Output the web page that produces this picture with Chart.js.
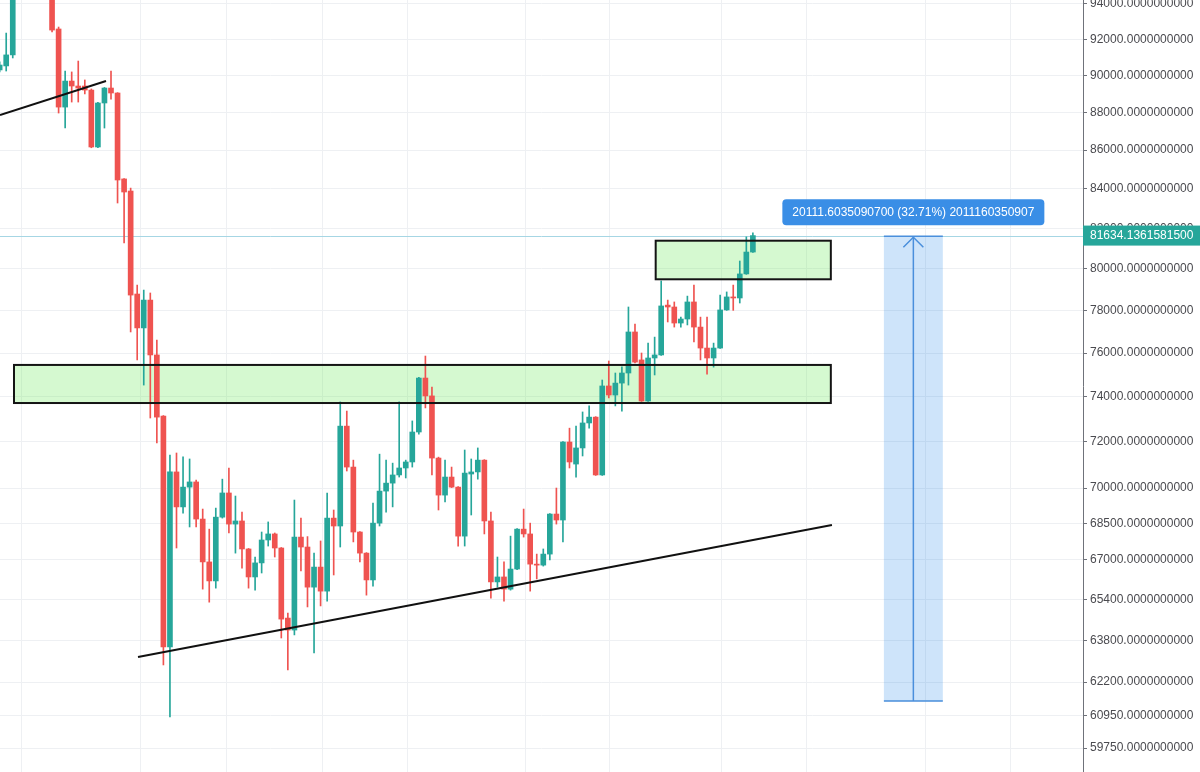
<!DOCTYPE html>
<html>
<head>
<meta charset="utf-8">
<script src="https://cdn.jsdelivr.net/npm/chart.js@4.4.1/dist/chart.umd.min.js"></script>
<style>
html,body{margin:0;padding:0;background:#ffffff;overflow:hidden;}
#wrap{width:1200px;height:772px;position:relative;}
</style>
</head>
<body>
<div id="wrap"><canvas id="c" width="1200" height="772"></canvas></div>
<script>
// ---- candle data (index = bar number) ----
const opens = [90300,90520,91130,95200,96100,95400,96300,95600,95000,92580,
88280,89690,89420,89420,89200,86160,88500,89310,89040,84500,
83880,78780,77170,78490,75910,73140,63540,70690,69200,70040,
70260,68690,66920,66150,68770,69790,68480,68610,67450,66310,
66880,67820,68070,67490,64670,64200,67940,67530,65900,66710,
65740,68730,68400,72690,70900,68150,67280,66190,68520,69870,
70210,70560,70860,71120,72430,74850,74040,71290,69700,70470,
70040,67980,70600,70690,71200,68610,66110,66310,65820,66630,
68270,68070,66830,66790,67240,68900,68650,71990,71030,71730,
72830,73090,70560,74490,74080,74620,75080,76980,75680,73810,
75770,75910,78250,78160,77400,77590,78400,77210,76230,75770,
76230,78020,78640,78590,79750,80820];
const highs = [90740,92350,95600,96500,96800,96900,96700,96000,95300,92690,
90240,90190,90790,89750,89260,88530,89340,90240,89060,84520,
84030,79210,78970,78830,76600,73160,71420,71510,71340,71250,
70340,69110,68270,69150,70380,70860,69660,68980,67470,67120,
68150,68570,68110,67510,64870,69490,68730,67960,67280,67780,
69790,69070,73770,73360,71200,68170,67300,69360,71460,71200,
71070,73770,71200,72920,74880,75860,74440,71330,71200,70900,
70060,71640,71250,71730,71220,68980,67120,66920,67980,68290,
69110,68520,67240,67450,68920,70000,72010,72600,72690,73320,
73590,73110,74760,75630,75080,75360,78160,77350,76000,76460,
76740,79410,78490,78400,77680,78680,79210,77680,77680,76460,
78730,78880,79210,80380,81570,81770];
const lows = [90190,90240,90960,94800,95000,95100,95200,94600,92410,87960,
87160,88550,88550,88990,86120,86120,87160,88710,83270,81270,
76980,75680,74530,73050,71950,62850,60890,67490,68940,68360,
68360,65820,65300,65860,68730,68110,67280,66670,65860,65780,
66470,67570,67120,63890,62660,64010,66550,65110,63310,65150,
65340,66390,67530,70730,67740,66920,65580,65940,68400,68980,
69200,70470,70430,70900,72340,73500,70560,69070,69410,70020,
67570,67570,68860,70380,68070,65460,65900,65340,65780,66610,
67940,65740,66230,66750,67000,68480,67740,70860,70470,71380,
72600,70540,70540,73950,73590,73360,74530,75540,73790,73790,
74990,75890,77450,77210,77210,77310,76510,75680,75030,75350,
76210,78000,78000,78350,79730,80800];
const closes = [90570,91130,95200,96100,95400,96300,95600,95000,92520,88280,
89690,89420,89310,89200,86160,88500,89310,89040,84445,83830,
78730,77170,78490,75910,73090,63540,70690,69200,70040,70260,
68690,66920,66150,68770,69790,68480,68610,67450,66310,66880,
67820,68070,67490,64630,64200,67940,67530,65900,66710,65740,
68730,68400,72690,70900,68150,67280,66190,68520,69870,70210,
70560,70860,71120,72430,74850,74040,71290,69700,70470,70040,
67980,70640,70690,71200,68610,66110,66310,65820,66630,68270,
68070,66830,66790,67240,68900,68650,71990,71120,71730,72830,
73090,70560,74490,74080,74620,75080,76980,75580,73810,75770,
75910,78210,78160,77400,77590,78400,77210,76230,75770,76230,
78020,78640,78590,79750,80820,81634];

// ---- axis ticks ----
const yTicks = [59750,60950,62200,63800,65400,67000,68500,70000,72000,74000,76000,78000,80000,82000,84000,86000,88000,90000,92000,94000];
const gridTimes = [3.37,21.43,34.56,49.32,62.24,80.31,93.18,110.24,123.21,141.28,154.26];
const xRange = [0.053, 165.4];
const yRange = [58883, 94229];

// ---- drawings ----
const trendLines = [[0.05,87855,16.24,89694],[21.12,63154,127.07,68440]];
const zones = [[2.19,126.9,73720,75450],[100.16,126.9,79490,81380]];
const measureBox = {from:135.0, to:144.0, low:61485, high:81597};
const measureLabel = '20111.6035090700 (32.71%) 2011160350907';
const lastPrice = 81634.13615815;
const lastPriceLabel = '81634.1361581500';

const UP = '#26a69a', DOWN = '#ef5350';

function hasFont(name){
  const c = document.createElement('canvas').getContext('2d');
  const s = '94000.0123456789abc';
  c.font = '40px monospace'; const a = c.measureText(s).width;
  c.font = '40px "' + name + '", monospace'; const b = c.measureText(s).width;
  return Math.abs(a-b) > 0.5;
}
const narrow = hasFont('Liberation Sans Narrow');
const FONT = narrow ? {family:'"Liberation Sans Narrow"', size:14} : {family:'"Liberation Sans", Arial, sans-serif', size:12};

const colors = opens.map((o,i)=> closes[i] >= o ? UP : DOWN);
const wickData = opens.map((o,i)=>({x:i, y:[lows[i], highs[i]]}));
const bodyData = opens.map((o,i)=>({x:i, y:[Math.min(o,closes[i]), Math.max(o,closes[i])]}));

const drawings = {
  id:'drawings',
  beforeDatasetsDraw(chart){
    const {ctx, chartArea:a, scales:{x,y}} = chart;
    ctx.save();
    ctx.beginPath(); ctx.rect(a.left,a.top,a.right-a.left,a.bottom-a.top); ctx.clip();
    ctx.fillStyle = 'rgba(115,235,98,0.30)';
    zones.forEach(z=>{
      const x1=x.getPixelForValue(z[0]), x2=x.getPixelForValue(z[1]);
      const y1=y.getPixelForValue(z[3]), y2=y.getPixelForValue(z[2]);
      ctx.fillRect(x1,y1,x2-x1,y2-y1);
    });
    const mx1=x.getPixelForValue(measureBox.from), mx2=x.getPixelForValue(measureBox.to);
    const my1=y.getPixelForValue(measureBox.high), my2=y.getPixelForValue(measureBox.low);
    ctx.fillStyle = 'rgba(33,130,230,0.22)';
    ctx.fillRect(mx1,my1,mx2-mx1,my2-my1);
    const lp = Math.round(y.getPixelForValue(lastPrice))+0.5;
    ctx.strokeStyle = '#a6d6e4'; ctx.lineWidth = 1;
    ctx.beginPath(); ctx.moveTo(a.left,lp); ctx.lineTo(a.right,lp); ctx.stroke();
    ctx.restore();
  },
  afterDatasetsDraw(chart){
    const {ctx, chartArea:a, scales:{x,y}} = chart;
    ctx.save();
    ctx.beginPath(); ctx.rect(a.left,a.top,a.right-a.left,a.bottom-a.top); ctx.clip();
    ctx.strokeStyle = '#141414'; ctx.lineWidth = 2;
    zones.forEach(z=>{
      const x1=x.getPixelForValue(z[0]), x2=x.getPixelForValue(z[1]);
      const y1=y.getPixelForValue(z[3]), y2=y.getPixelForValue(z[2]);
      ctx.strokeRect(x1,y1,x2-x1,y2-y1);
    });
    ctx.strokeStyle = '#111111'; ctx.lineWidth = 2;
    trendLines.forEach(t=>{
      ctx.beginPath();
      ctx.moveTo(x.getPixelForValue(t[0]), y.getPixelForValue(t[1]));
      ctx.lineTo(x.getPixelForValue(t[2]), y.getPixelForValue(t[3]));
      ctx.stroke();
    });
    const mx1=x.getPixelForValue(measureBox.from), mx2=x.getPixelForValue(measureBox.to);
    const my1=y.getPixelForValue(measureBox.high), my2=y.getPixelForValue(measureBox.low);
    const mc=(mx1+mx2)/2;
    ctx.strokeStyle = '#4a8fdc'; ctx.lineWidth = 1.5;
    ctx.beginPath(); ctx.moveTo(mx1,my1); ctx.lineTo(mx2,my1); ctx.moveTo(mx1,my2); ctx.lineTo(mx2,my2); ctx.stroke();
    ctx.beginPath(); ctx.moveTo(mc,my2); ctx.lineTo(mc,my1+1); ctx.stroke();
    ctx.beginPath(); ctx.moveTo(mc-10,my1+11); ctx.lineTo(mc,my1+1); ctx.lineTo(mc+10,my1+11); ctx.stroke();
    ctx.restore();

    ctx.save();
    ctx.font = FONT.size + 'px ' + FONT.family;
    const tw = ctx.measureText(measureLabel).width;
    const bw = tw + 20, bh = 26;
    const bx = mc - bw/2, by = my1 - 11 - bh;
    ctx.fillStyle = '#3a8ee6';
    ctx.beginPath();
    if (ctx.roundRect) ctx.roundRect(bx,by,bw,bh,4); else ctx.rect(bx,by,bw,bh);
    ctx.fill();
    ctx.fillStyle = '#ffffff'; ctx.textBaseline = 'middle'; ctx.textAlign = 'center';
    ctx.fillText(measureLabel, mc, by + bh/2 + 0.5);
    ctx.restore();
  },
  afterDraw(chart){
    const {ctx, chartArea:a, scales:{y}} = chart;
    const lp = y.getPixelForValue(lastPrice);
    ctx.save();
    ctx.fillStyle = UP;
    ctx.fillRect(a.right, lp-10, chart.width - a.right, 20);
    ctx.font = FONT.size + 'px ' + FONT.family;
    ctx.fillStyle = '#ffffff'; ctx.textBaseline = 'middle'; ctx.textAlign = 'left';
    ctx.fillText(lastPriceLabel, a.right + 7, lp + 0.5);
    ctx.restore();
  }
};

new Chart(document.getElementById('c'), {
  type: 'bar',
  data: {
    datasets: [
      {data: wickData, backgroundColor: colors, borderWidth: 0, barThickness: 1, grouped: false, order: 2, minBarLength: 1},
      {data: bodyData, backgroundColor: colors, borderWidth: 0, barThickness: 5, grouped: false, order: 1, minBarLength: 1}
    ]
  },
  options: {
    responsive: false,
    animation: false,
    events: [],
    layout: {padding: 0},
    plugins: {legend: {display: false}, tooltip: {enabled: false}},
    scales: {
      x: {
        type: 'linear', min: xRange[0], max: xRange[1], offset: false,
        afterBuildTicks: s => { s.ticks = gridTimes.map(v => ({value: v})); },
        afterFit: s => { s.height = 0; s.paddingLeft = 0; s.paddingRight = 0; },
        ticks: {display: false},
        grid: {color: '#eef0f3', drawTicks: false, lineWidth: 1, offset: false},
        border: {display: false}
      },
      y: {
        type: 'logarithmic', position: 'right', min: yRange[0], max: yRange[1],
        afterBuildTicks: s => { s.ticks = yTicks.map(v => ({value: v})); },
        afterFit: s => { s.width = 117; s.paddingTop = 0; s.paddingBottom = 0; },
        ticks: {autoSkip: false, padding: 3, color: '#4a4a4f', font: FONT,
                callback: v => Number(v).toFixed(10)},
        grid: {color: '#eef0f3', tickColor: '#6f727a', tickLength: 4, drawTicks: true},
        border: {display: true, color: '#6f727a'}
      }
    }
  },
  plugins: [drawings]
});
</script>
</body>
</html>
